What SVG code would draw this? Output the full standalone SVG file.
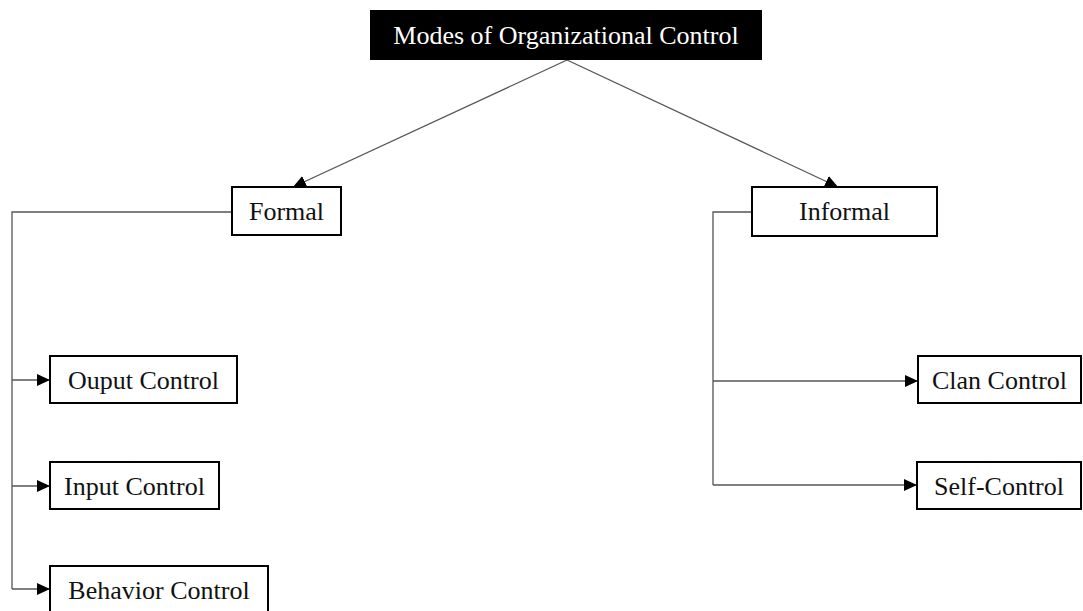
<svg xmlns="http://www.w3.org/2000/svg" width="1083" height="611" viewBox="0 0 1083 611">
<style>
.box{fill:#fff;stroke:#000;stroke-width:2}
.lbl{font-family:"Liberation Serif","Times New Roman",serif;font-size:26px;fill:#111;text-anchor:middle}
.conn{fill:none;stroke:#555;stroke-width:1.3}
</style>
<defs>
<marker id="arr" markerUnits="userSpaceOnUse" markerWidth="14" markerHeight="12" refX="13" refY="6" orient="auto">
<path d="M0,0 L13,6 L0,12 Z" fill="#000"/>
</marker>
</defs>
<rect width="1083" height="611" fill="#fff"/>
<g id="connectors">
<path class="conn" d="M567,60 L293,187" marker-end="url(#arr)"/>
<path class="conn" d="M567,60 L838,187" marker-end="url(#arr)"/>
<path class="conn" d="M232,212 H12 V589"/>
<path class="conn" d="M12,380 H50" marker-end="url(#arr)"/>
<path class="conn" d="M12,486 H50" marker-end="url(#arr)"/>
<path class="conn" d="M12,589 H50" marker-end="url(#arr)"/>
<path class="conn" d="M752,212 H713 V485"/>
<path class="conn" d="M713,381 H918" marker-end="url(#arr)"/>
<path class="conn" d="M713,485 H917" marker-end="url(#arr)"/>
</g>
<g id="root">
<rect x="370" y="10" width="392" height="50" fill="#000"/>
<text class="lbl" x="566" y="44" style="fill:#fff">Modes of Organizational Control</text>
</g>
<g id="formal">
<rect class="box" x="232" y="187" width="109" height="48"/>
<text class="lbl" x="286.5" y="220">Formal</text>
</g>
<g id="informal">
<rect class="box" x="752" y="187" width="185" height="49"/>
<text class="lbl" x="844.5" y="220">Informal</text>
</g>
<g id="output-control">
<rect class="box" x="50" y="356" width="187" height="47"/>
<text class="lbl" x="143.5" y="389">Ouput Control</text>
</g>
<g id="input-control">
<rect class="box" x="50" y="462" width="169" height="47"/>
<text class="lbl" x="134.5" y="495">Input Control</text>
</g>
<g id="behavior-control">
<rect class="box" x="50" y="566" width="218" height="48"/>
<text class="lbl" x="159" y="599">Behavior Control</text>
</g>
<g id="clan-control">
<rect class="box" x="918" y="356" width="163" height="47"/>
<text class="lbl" x="999.5" y="389">Clan Control</text>
</g>
<g id="self-control">
<rect class="box" x="917" y="462" width="164" height="47"/>
<text class="lbl" x="999" y="495">Self-Control</text>
</g>
</svg>
